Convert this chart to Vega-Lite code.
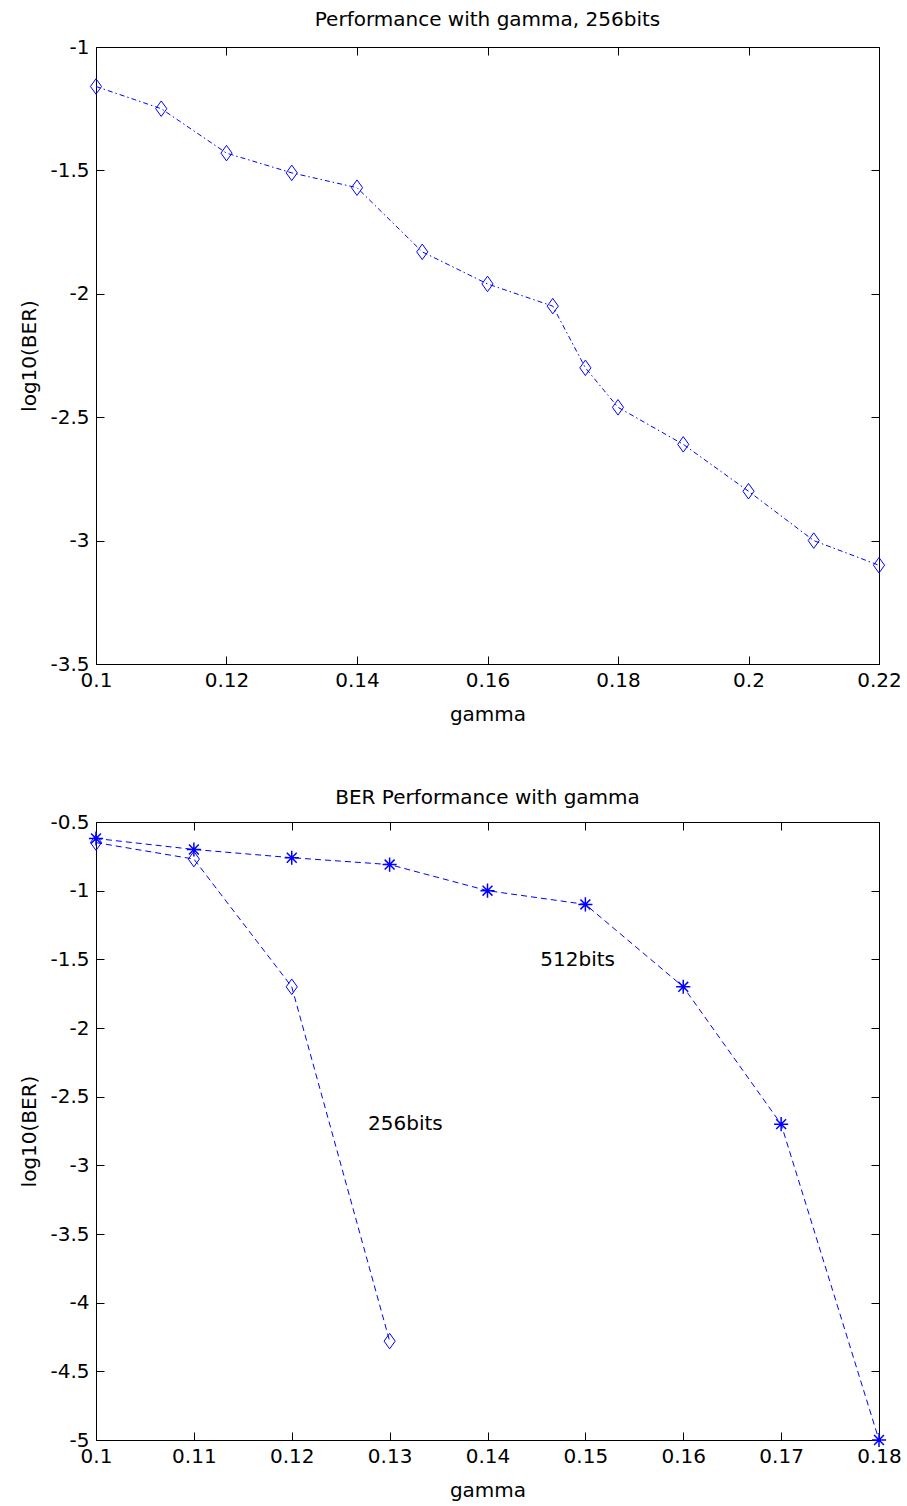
{
  "$schema": "https://vega.github.io/schema/vega-lite/v6.json",
  "background": "white",
  "padding": {"left": 19, "top": 9, "right": 5, "bottom": 5},
  "config": {
    "font": "DejaVu Sans",
    "view": {"stroke": "black", "strokeWidth": 1},
    "axis": {
      "grid": false,
      "domain": false,
      "tickColor": "black",
      "tickSize": -8,
      "labelColor": "black",
      "titleColor": "black",
      "labelFontSize": 20,
      "titleFontSize": 20,
      "titleFontWeight": "normal",
      "labelFlush": false,
      "labelPadding": 14
    },
    "axisY": {"labelPadding": 15, "titlePadding": 10},
    "axisX": {"titlePadding": 14},
    "title": {"fontSize": 20, "fontWeight": "normal", "color": "black"}
  },
  "datasets": {
    "top": [
      {"gamma": 0.1, "ber": -1.16},
      {"gamma": 0.11, "ber": -1.25},
      {"gamma": 0.12, "ber": -1.43},
      {"gamma": 0.13, "ber": -1.51},
      {"gamma": 0.14, "ber": -1.57},
      {"gamma": 0.15, "ber": -1.83},
      {"gamma": 0.16, "ber": -1.96},
      {"gamma": 0.17, "ber": -2.05},
      {"gamma": 0.175, "ber": -2.3},
      {"gamma": 0.18, "ber": -2.46},
      {"gamma": 0.19, "ber": -2.61},
      {"gamma": 0.2, "ber": -2.8},
      {"gamma": 0.21, "ber": -3.0},
      {"gamma": 0.22, "ber": -3.1}
    ],
    "b512": [
      {"gamma": 0.1, "ber": -0.62},
      {"gamma": 0.11, "ber": -0.7},
      {"gamma": 0.12, "ber": -0.76},
      {"gamma": 0.13, "ber": -0.81},
      {"gamma": 0.14, "ber": -1.0},
      {"gamma": 0.15, "ber": -1.1},
      {"gamma": 0.16, "ber": -1.7},
      {"gamma": 0.17, "ber": -2.7},
      {"gamma": 0.18, "ber": -5.0}
    ],
    "b256": [
      {"gamma": 0.1, "ber": -0.65},
      {"gamma": 0.11, "ber": -0.77},
      {"gamma": 0.12, "ber": -1.7},
      {"gamma": 0.13, "ber": -4.28}
    ],
    "labels": [
      {"gamma": 0.1454, "ber": -1.505, "label": "512bits"},
      {"gamma": 0.1278, "ber": -2.7, "label": "256bits"}
    ]
  },
  "spacing": 62,
  "vconcat": [
    {
      "title": {"text": "Performance with gamma, 256bits", "offset": 7},
      "width": 783,
      "height": 617,
      "data": {"name": "top"},
      "resolve": {"axis": {"x": "independent", "y": "independent"}},
      "layer": [
        {
          "mark": {"type": "line", "color": "#0000ff", "strokeWidth": 1, "strokeDash": [5, 3, 1.5, 3]},
          "encoding": {
            "x": {"field": "gamma", "type": "quantitative", "scale": {"domain": [0.1, 0.22], "nice": false, "zero": false},
                  "axis": {"title": "gamma", "values": [0.1, 0.12, 0.14, 0.16, 0.18, 0.2, 0.22], "labelExpr": "'' + datum.value"}},
            "y": {"field": "ber", "type": "quantitative", "scale": {"domain": [-3.5, -1], "nice": false, "zero": false},
                  "axis": {"title": "log10(BER)", "values": [-3.5, -3, -2.5, -2, -1.5, -1], "labelExpr": "'' + datum.value"}}
          }
        },
        {
          "mark": {"type": "point", "shape": "M0,-1L0.72,0L0,1L-0.72,0Z", "filled": false, "color": "#0000ff", "strokeWidth": 1, "size": 240, "opacity": 1},
          "encoding": {
            "x": {"field": "gamma", "type": "quantitative", "axis": {"orient": "top", "labels": false, "title": null, "values": [0.1, 0.12, 0.14, 0.16, 0.18, 0.2, 0.22]}},
            "y": {"field": "ber", "type": "quantitative", "axis": {"orient": "right", "labels": false, "title": null, "values": [-3.5, -3, -2.5, -2, -1.5, -1]}}
          }
        }
      ]
    },
    {
      "title": {"text": "BER Performance with gamma", "offset": 4},
      "width": 783,
      "height": 618,
      "resolve": {"axis": {"x": "independent", "y": "independent"}},
      "layer": [
        {
          "data": {"name": "b512"},
          "mark": {"type": "line", "color": "#0000ff", "strokeWidth": 1, "strokeDash": [6, 4]},
          "encoding": {
            "x": {"field": "gamma", "type": "quantitative", "scale": {"domain": [0.1, 0.18], "nice": false, "zero": false},
                  "axis": {"title": "gamma", "values": [0.1, 0.11, 0.12, 0.13, 0.14, 0.15, 0.16, 0.17, 0.18], "labelExpr": "'' + datum.value"}},
            "y": {"field": "ber", "type": "quantitative", "scale": {"domain": [-5, -0.5], "nice": false, "zero": false},
                  "axis": {"title": "log10(BER)", "values": [-5, -4.5, -4, -3.5, -3, -2.5, -2, -1.5, -1, -0.5], "labelExpr": "'' + datum.value"}}
          }
        },
        {
          "data": {"name": "b512"},
          "mark": {"type": "point", "shape": "M-1,0L1,0M0,-1L0,1M-0.7,-0.7L0.7,0.7M-0.7,0.7L0.7,-0.7", "filled": false, "color": "#0000ff", "strokeWidth": 1.5, "size": 200, "opacity": 1},
          "encoding": {
            "x": {"field": "gamma", "type": "quantitative", "axis": {"orient": "top", "labels": false, "title": null, "values": [0.1, 0.11, 0.12, 0.13, 0.14, 0.15, 0.16, 0.17, 0.18]}},
            "y": {"field": "ber", "type": "quantitative", "axis": {"orient": "right", "labels": false, "title": null, "values": [-5, -4.5, -4, -3.5, -3, -2.5, -2, -1.5, -1, -0.5]}}
          }
        },
        {
          "data": {"name": "b256"},
          "mark": {"type": "line", "color": "#0000ff", "strokeWidth": 1, "strokeDash": [6, 4]},
          "encoding": {
            "x": {"field": "gamma", "type": "quantitative", "axis": null},
            "y": {"field": "ber", "type": "quantitative", "axis": null}
          }
        },
        {
          "data": {"name": "b256"},
          "mark": {"type": "point", "shape": "M0,-1L0.72,0L0,1L-0.72,0Z", "filled": false, "color": "#0000ff", "strokeWidth": 1, "size": 240, "opacity": 1},
          "encoding": {
            "x": {"field": "gamma", "type": "quantitative", "axis": null},
            "y": {"field": "ber", "type": "quantitative", "axis": null}
          }
        },
        {
          "data": {"name": "labels"},
          "mark": {"type": "text", "align": "left", "baseline": "middle", "fontSize": 20, "color": "black"},
          "encoding": {
            "x": {"field": "gamma", "type": "quantitative", "axis": null},
            "y": {"field": "ber", "type": "quantitative", "axis": null},
            "text": {"field": "label"}
          }
        }
      ]
    }
  ]
}
